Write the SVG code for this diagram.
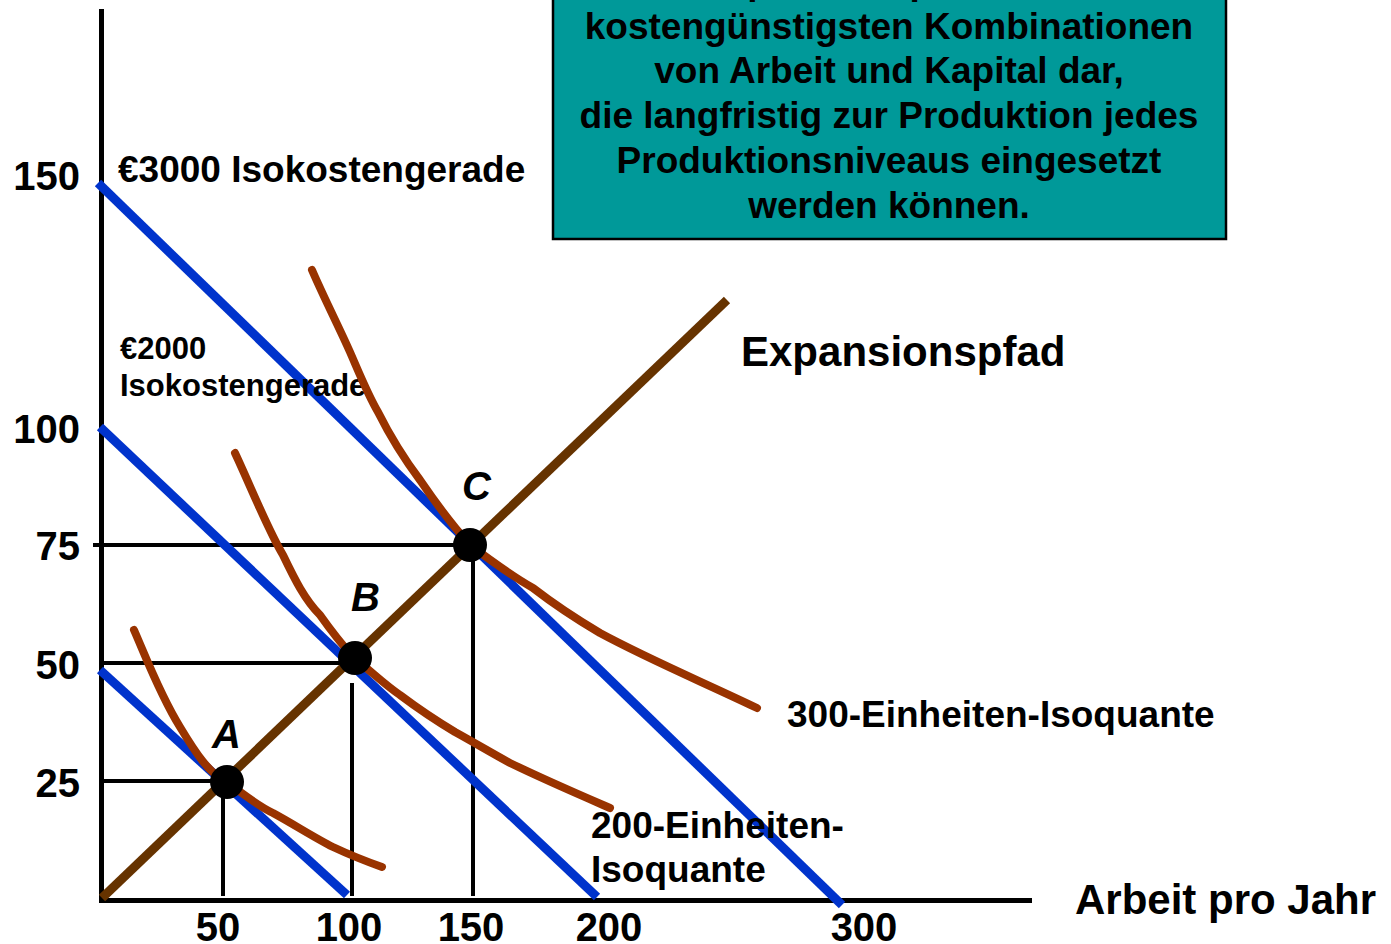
<svg xmlns="http://www.w3.org/2000/svg" width="1391" height="944" viewBox="0 0 1391 944">
<style>
text{font-family:"Liberation Sans",Arial,sans-serif;font-weight:bold;fill:#000}
.ax{stroke:#000;stroke-width:5;fill:none}
.drop{stroke:#000;stroke-width:4;fill:none}
.iso{stroke:#0033cc;stroke-width:9;fill:none}
.q{stroke:#993300;stroke-width:8;fill:none;stroke-linecap:round;stroke-linejoin:round}
.exp{stroke:#663300;stroke-width:9;fill:none}
.num{font-size:40px}
.lab{font-size:37px}
.pt{font-size:40px;font-style:italic}
</style>
<rect width="1391" height="944" fill="#fff"/>
<g id="infobox">
<rect x="553" y="-60" width="673" height="299" fill="#009999" stroke="#000" stroke-width="2.5"/>
<text x="889" y="-6" text-anchor="middle" class="lab">Der Expansionspfad stellt die</text>
<text x="889" y="39" text-anchor="middle" class="lab">kostengünstigsten Kombinationen</text>
<text x="889" y="83" text-anchor="middle" class="lab">von Arbeit und Kapital dar,</text>
<text x="889" y="128" text-anchor="middle" class="lab">die langfristig zur Produktion jedes</text>
<text x="889" y="173" text-anchor="middle" class="lab">Produktionsniveaus eingesetzt</text>
<text x="889" y="218" text-anchor="middle" class="lab">werden können.</text>
</g>
<g id="axes">
<line class="ax" x1="101.5" y1="9" x2="101.5" y2="902"/>
<line class="ax" x1="99" y1="900.5" x2="1032" y2="900.5"/>
<text x="80" y="190" text-anchor="end" class="num">150</text>
<text x="80" y="443" text-anchor="end" class="num">100</text>
<text x="80" y="560" text-anchor="end" class="num">75</text>
<text x="80" y="679" text-anchor="end" class="num">50</text>
<text x="80" y="797" text-anchor="end" class="num">25</text>
<text x="218" y="941" text-anchor="middle" class="num">50</text>
<text x="349" y="941" text-anchor="middle" class="num">100</text>
<text x="471" y="941" text-anchor="middle" class="num">150</text>
<text x="609" y="941" text-anchor="middle" class="num">200</text>
<text x="864" y="941" text-anchor="middle" class="num">300</text>
<text x="1075" y="914" font-size="42">Arbeit pro Jahr</text>
</g>
<g id="connectors">
<line class="drop" x1="93" y1="545" x2="470" y2="545"/>
<line class="drop" x1="102" y1="663" x2="354" y2="663"/>
<line class="drop" x1="102" y1="781" x2="227" y2="781"/>
<line class="drop" x1="223" y1="782" x2="223" y2="896"/>
<line class="drop" x1="352" y1="683" x2="352" y2="896"/>
<line class="drop" x1="473" y1="545" x2="473" y2="896"/>
</g>
<g id="isocost-3000">
<line class="iso" x1="98" y1="183" x2="842" y2="905"/>
<text x="118" y="182" class="lab">€3000 Isokostengerade</text>
</g>
<g id="isocost-2000">
<line class="iso" x1="100" y1="427" x2="597" y2="897"/>
<text x="120" y="359" font-size="31">€2000</text>
<text x="120" y="396" font-size="31">Isokostengerade</text>
</g>
<g id="isocost-1000">
<line class="iso" x1="100" y1="670" x2="347" y2="895"/>
</g>
<g id="expansion">
<line class="exp" x1="102" y1="898" x2="727" y2="300"/>
<text x="741" y="366" font-size="42">Expansionspfad</text>
</g>
<g id="isoquant-100">
<path class="q" d="M134,630 C145,655 160,695 180,727 C195,752 210,775 227,782 C240,792 258,806 273,813 C295,825 315,838 333,847 C350,855 368,862 382,867"/>
</g>
<g id="isoquant-200">
<path class="q" d="M235,453 C250,485 268,530 283,555 C295,580 305,600 320,615 C332,632 345,648 354,658 C372,672 385,685 400,695 C420,710 435,720 455,732 C475,743 490,752 510,763 C545,780 580,795 610,808"/>
<text x="591" y="838" class="lab">200-Einheiten-</text>
<text x="591" y="882" class="lab">Isoquante</text>
</g>
<g id="isoquant-300">
<path class="q" d="M312,270 C325,300 338,325 350,352 C360,375 368,395 378,412 C392,440 405,460 420,480 C435,502 452,525 470,545 C490,560 510,575 533,588 C555,605 578,620 600,633 C650,660 705,683 757,708"/>
<text x="787" y="727" class="lab">300-Einheiten-Isoquante</text>
</g>
<g id="point-A">
<circle cx="227" cy="782" r="17" fill="#000"/>
<text x="212" y="748" class="pt">A</text>
</g>
<g id="point-B">
<circle cx="355" cy="658" r="17" fill="#000"/>
<text x="351" y="611" class="pt">B</text>
</g>
<g id="point-C">
<circle cx="470" cy="545" r="17" fill="#000"/>
<text x="462" y="500" class="pt">C</text>
</g>
</svg>
